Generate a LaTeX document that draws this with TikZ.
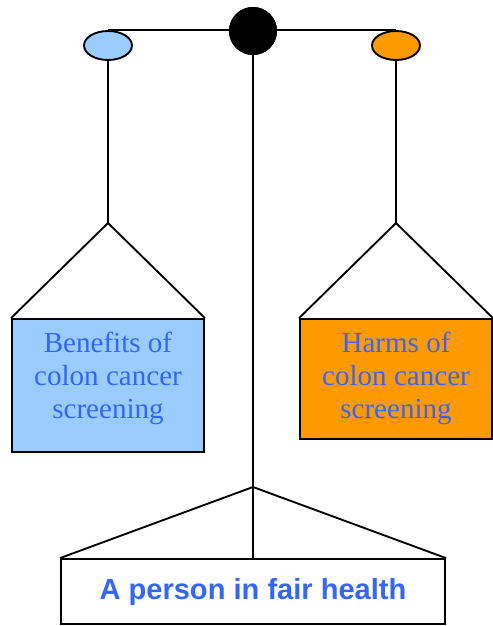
\documentclass[tikz,border=0pt]{standalone}
\usepackage{fontspec}
\setmainfont{Liberation Serif}
\setsansfont{Liberation Sans}
\usetikzlibrary{shapes.geometric}
\definecolor{panblue}{RGB}{153,204,255}
\definecolor{panorange}{RGB}{255,153,0}
\definecolor{txtblue}{RGB}{51,102,255}
\tikzset{
  rope/.style  ={line width=1.4pt, draw=black},
  pivot/.style ={circle, fill=black, minimum size=36pt, inner sep=0pt},
  pan/.style   ={ellipse, draw, line width=1.4pt, minimum width=36pt, minimum height=21.75pt, inner sep=0pt},
  sack/.style  ={draw, line width=1.4pt, minimum width=144pt, inner sep=0pt},
  lbl/.style   ={align=center, text=txtblue, font=\fontsize{21.8}{24.75}\selectfont},
}

\begin{document}
\begin{tikzpicture}[x=0.75pt, y=-0.75pt]
  \useasboundingbox (0,0) rectangle (493,626);
  % beam and pans
  \node[pivot] (top) at (253,31) {};
  \node[pan, fill=panblue] (lpan) at (108,45.5) {};
  \node[pan, fill=panorange] (rpan) at (396,45.5) {};
  \draw[rope] (lpan.north) -- (rpan.north);
  \node[pivot] at (top) {};
  % hanging weights
  \coordinate (lapex) at (108,223);
  \coordinate (rapex) at (396,223);
  \node[sack, fill=panblue, minimum height=99.75pt] (lbox) at (108,385.5) {};
  \node[sack, fill=panorange, minimum height=90pt] (rbox) at (396,379) {};
  \node[lbl] (ben) at (108,378) {Benefits of\\colon cancer\\screening};
  \node[lbl] (harm) at (396,378) {Harms of\\colon cancer\\screening};
  \draw[rope] (lpan.south) -- (lapex);
  \draw[rope] (lbox.north west) -- (lapex) -- (lbox.north east);
  \draw[rope] (rpan.south) -- (rapex);
  \draw[rope] (rbox.north west) -- (rapex) -- (rbox.north east);
  % stand
  \coordinate (mapex) at (253,487);
  \node[sack, minimum width=288pt, minimum height=48.75pt, text=txtblue,
        font=\sffamily\bfseries\fontsize{21.8}{24.75}\selectfont] (base) at (253,591.5) {A person in fair health};
  \draw[rope] (top.south) -- (base.north);
  \draw[rope] (base.north west) -- (mapex) -- (base.north east);
\end{tikzpicture}
\end{document}
